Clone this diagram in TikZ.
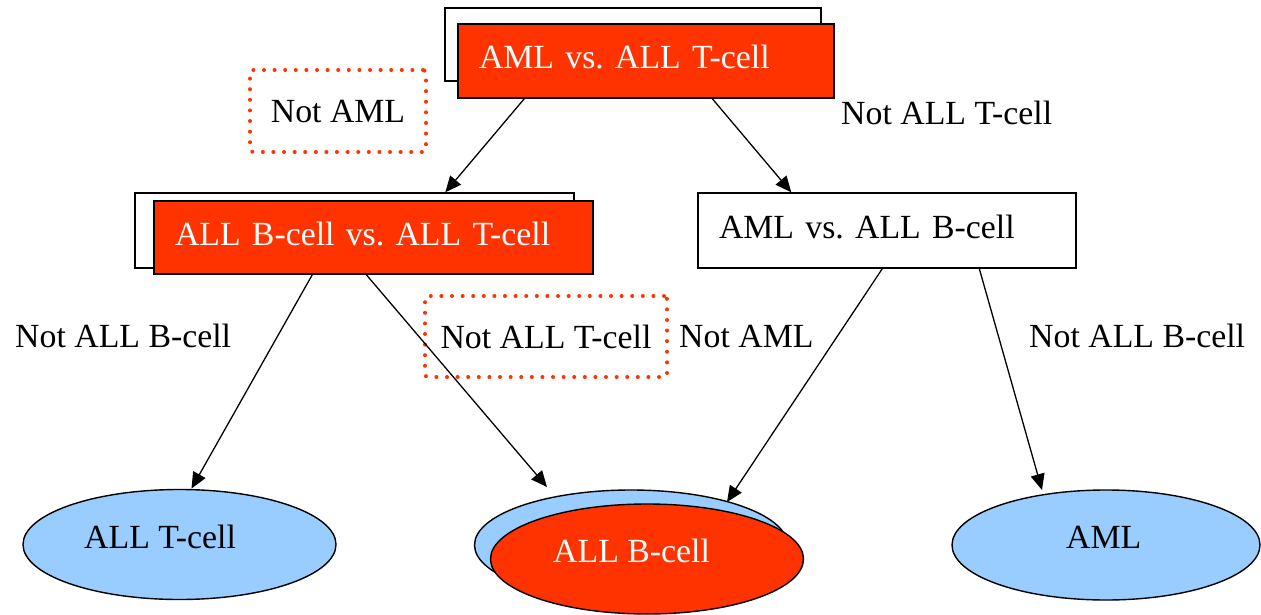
\documentclass[tikz,border=0pt]{standalone}
\usepackage{fontspec}
\setmainfont{Liberation Serif}
\usetikzlibrary{arrows.meta,shapes.geometric}
\definecolor{hot}{HTML}{FF3300}
\definecolor{sky}{HTML}{99CCFF}
\frenchspacing

\begin{document}
\begin{tikzpicture}[x=1pt, y=-1pt, >={Triangle[length=16pt,width=14pt]},
  every node/.style={font=\fontsize{33.8}{40}\selectfont},
  lbl/.style={anchor=base west, inner sep=0pt},
  box/.style={draw, line width=1.4pt, inner xsep=21pt, inner ysep=0pt, align=left, text height=23pt, text depth=7pt},
  hotbox/.style={box, fill=hot, text=white},
  backbox/.style={draw, line width=1.4pt, fill=white, inner sep=0pt},
  leaf/.style={ellipse, draw, line width=1.4pt, fill=sky, inner sep=0pt, minimum width=313pt, minimum height=110pt},
  note/.style={draw=hot, line width=4pt, dash pattern=on 0pt off 10.6pt, line cap=round, rounded corners=3pt, inner sep=0pt, text height=23pt, text depth=0pt},
  arr/.style={->, line width=1.3pt}]
\useasboundingbox (0,0) rectangle (1261,615);
% decision boxes
\node[backbox, minimum width=376pt, minimum height=73pt] (topback) at (633,44.5) {};
\node[hotbox, text width=334pt, minimum height=74pt] (topbox) at (646,61) {AML vs. ALL T-cell};
\node[backbox, minimum width=439pt, minimum height=75pt] (midback) at (354.5,230.5) {};
\node[hotbox, text width=397pt, minimum height=73pt] (midbox) at (373.5,237.5) {ALL B-cell vs. ALL T-cell};
\node[box, fill=white, text width=336pt, minimum height=75pt] (rightbox) at (887,230.5) {AML vs. ALL B-cell};
% classes
\node[leaf] (tcell) at (179.5,544.5) {};
\node[lbl] (tcelltxt) at (84,548) {ALL T-cell};
\node[leaf] (bback) at (631,545) {};
\node[leaf, fill=hot] (bcell) at (647,559) {};
\node[lbl, text=white] (bcelltxt) at (553,562) {ALL B-cell};
\node[leaf, minimum width=308pt] (aml) at (1106,545) {};
\node[lbl] (amltxt) at (1066,548) {AML};
% dotted notes
\node[note, minimum width=176pt, minimum height=82pt] (note1) at (338,111) {Not AML};
\node[note, minimum width=242pt, minimum height=81pt] (note2) at (546,336.5) {Not ALL T-cell};
% branch labels
\node[lbl] (l1) at (841,125) {Not ALL T-cell};
\node[lbl] (l2) at (15,347) {Not ALL B-cell};
\node[lbl] (l3) at (679,347) {Not AML};
\node[lbl] (l4) at (1029,347) {Not ALL B-cell};
% arrows
\draw[arr] ([shift={(67,0)}]topbox.south west) -- ([shift={(311,0)}]midback.north west);
\draw[arr] ([shift={(255,0)}]topbox.south west) -- ([shift={(94,0)}]rightbox.north west);
\draw[arr] ([shift={(159,0)}]midbox.south west) -- ([shift={(12,-56)}]tcell.center);
\draw[arr] ([shift={(213,0)}]midbox.south west) -- ([shift={(-84,-58)}]bback.center);
\draw[arr] ([shift={(185,0)}]rightbox.south west) -- ([shift={(96,-43)}]bback.center);
\draw[arr] ([shift={(282,0)}]rightbox.south west) -- ([shift={(-64,-55)}]aml.center);
\end{tikzpicture}
\end{document}
